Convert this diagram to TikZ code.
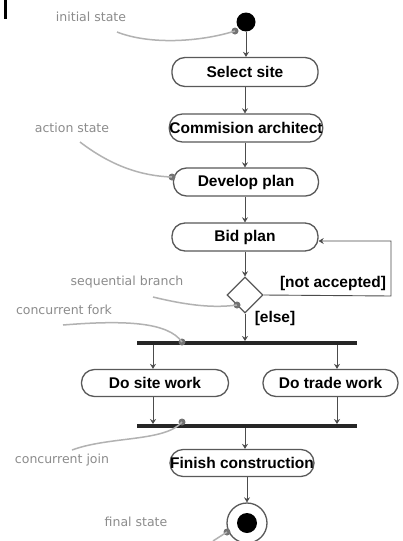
\documentclass[tikz,border=0pt]{standalone}
\usepackage{fontspec}
\setmainfont{Liberation Sans}
\newfontfamily\notefont{DejaVu Sans}
\usetikzlibrary{arrows.meta,shapes.geometric}
\begin{document}
\begin{tikzpicture}[x=1pt,y=-1pt,
 act/.style={draw=black!65, line width=1.3pt, rounded corners=13pt, font=\fontsize{15.5}{17}\selectfont\bfseries, inner sep=0pt, minimum height=28pt},
 flow/.style={draw=black!70, line width=0.9pt, -{Stealth[length=5pt,width=6pt]}},
 guard/.style={font=\fontsize{15.5}{17}\selectfont\bfseries, inner sep=0pt},
 note/.style={font=\notefont\fontsize{12.5}{14}\selectfont, text=black!45, inner sep=0pt},
 lead/.style={draw=black!30, line width=1.5pt},
 leaddot/.style={circle, fill=black!55, inner sep=0pt, minimum size=7pt},
 bar/.style={fill=black!85, inner sep=0pt, minimum height=3.5pt, minimum width=220pt}
]
\useasboundingbox (0,0) rectangle (403,541);
\fill[white] (0,0) rectangle (403,541);
% cut-off glyph at the top left
\fill[black] (4,0) rectangle (7,19);

% nodes
\node[circle, fill=black, inner sep=0pt, minimum size=19pt] (init) at (246,22) {};
\node[act, minimum width=146pt, minimum height=29pt] (select) at (245,72) {Select site};
\node[act, minimum width=150pt] (comm) at (246,128) {Commision architect};
\node[act, minimum width=145pt] (develop) at (246,182) {Develop plan};
\node[act, minimum width=146pt] (bid) at (245,237) {Bid plan};
\node[diamond, draw=black!65, line width=1.3pt, inner sep=0pt, minimum width=36pt, minimum height=36pt] (dia) at (245,295) {};
\node[bar] (fork) at (247,343) {};
\node[act, minimum width=147pt, minimum height=27pt] (site) at (155,383) {Do site work};
\node[act, minimum width=135pt, minimum height=27pt] (trade) at (330.5,383) {Do trade work};
\node[bar] (join) at (247,426) {};
\node[act, minimum width=140pt, minimum height=27pt] (finish) at (242,463) {Finish construction};
\node[circle, draw=black!65, line width=1.3pt, inner sep=0pt, minimum size=40pt] (final) at (247,523) {};
\node[circle, fill=black, inner sep=0pt, minimum size=20pt] (finalin) at (247,523) {};

% guards
\node[guard] (na) at (333,283) {[not accepted]};
\node[guard] (else) at (275,318) {[else]};

% flows
\draw[flow] (init) -- (init |- select.north);
\draw[flow] (select.south) -- (select.south |- comm.north);
\draw[flow] (comm.south -| select.south) -- (select.south |- develop.north);
\draw[flow] (develop.south -| select.south) -- (select.south |- bid.north);
\draw[flow] (bid.south) -- (dia.north);
\coordinate (lp1) at (391,296);
\coordinate (lp2) at (391,241);
\draw[flow] (dia.east) -- (lp1) -- (lp2) -- (lp2 -| bid.east);
\draw[flow] (dia.south) -- (dia.south |- fork.north);
\coordinate (xa) at (153,0);
\coordinate (xb) at (337,0);
\draw[flow] (xa |- fork.south) -- (xa |- site.north);
\draw[flow] (xb |- fork.south) -- (xb |- trade.north);
\draw[flow] (xa |- site.south) -- (xa |- join.north);
\draw[flow] (xb |- trade.south) -- (xb |- join.north);
\draw[flow] (join.south -| dia.south) -- (dia.south |- finish.north);
\draw[flow] (finish.south -| final.north) -- (final.north);

% annotations
\node[note] (n1) at (91,17) {initial state};
\node[leaddot] (d1) at (235,31) {};
\draw[lead] (117,32) .. controls (150,45) and (200,42) .. (d1.center);

\node[note] (n2) at (72,128) {action state};
\node[leaddot] (d2) at (172,177) {};
\draw[lead] (80,142) .. controls (110,165) and (140,176) .. (d2.center);

\node[note] (n3) at (127,282) {sequential branch};
\node[leaddot] (d3) at (237,305) {};
\draw[lead] (153,297) .. controls (190,306) and (215,308) .. (d3.center);

\node[note] (n4) at (64,310) {concurrent fork};
\node[leaddot] (d4) at (182,342) {};
\draw[lead] (63,325) .. controls (125,320) and (168,322) .. (d4.center);

\node[note] (n5) at (62,460) {concurrent join};
\node[leaddot] (d5) at (182,422) {};
\draw[lead] (72,450) .. controls (110,436) and (165,442) .. (d5.center);

\node[note] (n6) at (136,522) {final state};
\node[leaddot] (d6) at (227,532) {};
\draw[lead] (d6.center) -- (213,541);
\end{tikzpicture}
\end{document}
